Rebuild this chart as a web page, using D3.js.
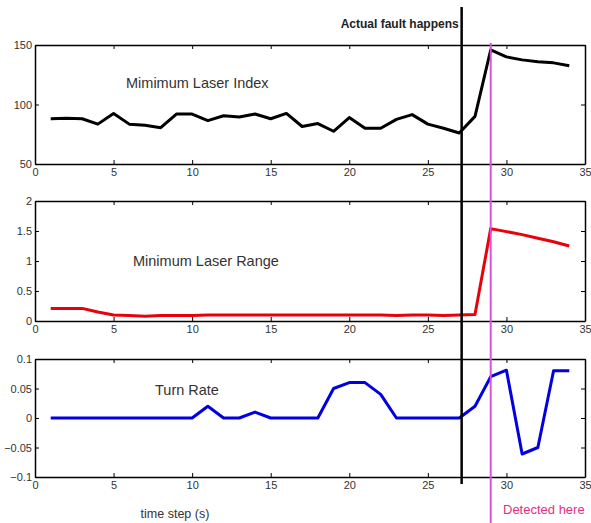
<!DOCTYPE html>
<html>
<head>
<meta charset="utf-8">
<script src="https://cdn.jsdelivr.net/npm/d3@7/dist/d3.min.js"></script>
<style>
  body { margin: 0; background: #fff; }
  svg { display: block; }
  .axis text { font-family: "Liberation Sans", Arial, sans-serif; font-size: 11px; fill: #333; }
  .axis path, .axis line { stroke: #000; }
  .label { font-family: "Liberation Sans", Arial, sans-serif; font-size: 14.5px; fill: #333; }
</style>
</head>
<body>
<div id="chart"></div>
<script>
// Données
const timeSteps = d3.range(1, 35);
const laserIndex = [88, 88.5, 88, 83.5, 92.5, 83.5, 82.5, 80.5, 92, 92, 86.5, 90.5, 89.5, 92, 88, 92.5,
                    81.5, 84, 77.5, 89, 80, 80, 87.5, 91.5, 83.5, 80, 76, 90, 146, 140, 137.5, 136, 135, 132.5];
const laserRange = [0.21, 0.21, 0.21, 0.15, 0.1, 0.09, 0.08, 0.09, 0.09, 0.09, 0.1, 0.1, 0.1, 0.1, 0.1, 0.1,
                    0.1, 0.1, 0.1, 0.1, 0.1, 0.1, 0.09, 0.1, 0.1, 0.09, 0.1, 0.11, 1.54, 1.49, 1.44, 1.38, 1.32, 1.25];
const turnRate = [0, 0, 0, 0, 0, 0, 0, 0, 0, 0, 0.02, 0, 0, 0.01, 0, 0,
                  0, 0, 0.05, 0.06, 0.06, 0.04, 0, 0, 0, 0, 0, 0.02, 0.07, 0.081, -0.061, -0.05, 0.08, 0.08];
const xTicks = [0, 5, 10, 15, 20, 25, 30, 35];
const faultStep = 27.15;
const detectStep = 29;

const panels = [
  { name: 'Mimimum Laser Index', values: laserIndex, domain: [50, 150], ticks: [50, 100, 150],
    color: '#000', top: 45, bottom: 164, labelX: 126, labelY: 88 },
  { name: 'Minimum Laser Range', values: laserRange, domain: [0, 2], ticks: [0, 0.5, 1, 1.5, 2],
    color: '#e8000b', top: 201, bottom: 321, labelX: 133, labelY: 266 },
  { name: 'Turn Rate', values: turnRate, domain: [-0.1, 0.1], ticks: [-0.1, -0.05, 0, 0.05, 0.1],
    color: '#0000e0', top: 359, bottom: 477, labelX: 155, labelY: 395 }
];

const W = 591, H = 523;
const svg = d3.select('#chart').append('svg').attr('width', W).attr('height', H);

const x = d3.scaleLinear().domain([0, 35]).range([35, 585]);

panels.forEach(p => {
  const y = d3.scaleLinear().domain(p.domain).range([p.bottom, p.top]);
  const g = svg.append('g');

  // Axes façon MATLAB (graduations vers l'intérieur)
  g.append('g').attr('class', 'axis')
    .attr('transform', `translate(0,${p.bottom})`)
    .call(d3.axisBottom(x).tickValues(xTicks).tickSizeInner(-4).tickSizeOuter(0).tickPadding(4));
  g.append('g').attr('class', 'axis')
    .attr('transform', `translate(0,${p.top})`)
    .call(d3.axisTop(x).tickValues(xTicks).tickSizeInner(-4).tickSizeOuter(0).tickFormat(''));
  g.append('g').attr('class', 'axis')
    .attr('transform', `translate(35,0)`)
    .call(d3.axisLeft(y).tickValues(p.ticks).tickSizeInner(-4).tickSizeOuter(0).tickPadding(3).tickFormat(d3.format('')));
  g.append('g').attr('class', 'axis')
    .attr('transform', `translate(585,0)`)
    .call(d3.axisRight(y).tickValues(p.ticks).tickSizeInner(-4).tickSizeOuter(0).tickFormat(''));
  g.selectAll('.axis path').attr('stroke-width', 1.5);

  const line = d3.line()
    .x((d, i) => x(timeSteps[i]))
    .y(d => y(d));

  g.append('path')
    .datum(p.values)
    .attr('fill', 'none')
    .attr('stroke', p.color)
    .attr('stroke-width', 3)
    .attr('stroke-linejoin', 'round')
    .attr('d', line);

  g.append('text')
    .attr('class', 'label')
    .attr('x', p.labelX)
    .attr('y', p.labelY)
    .text(p.name);
});

// Lignes verticales : défaut réel et détection
svg.append('line')
  .attr('x1', x(detectStep)).attr('x2', x(detectStep))
  .attr('y1', 43).attr('y2', H)
  .attr('stroke', '#e050e0').attr('stroke-width', 2);

svg.append('line')
  .attr('x1', x(faultStep)).attr('x2', x(faultStep))
  .attr('y1', 7).attr('y2', 484)
  .attr('stroke', '#000').attr('stroke-width', 2.5);

svg.append('text')
  .attr('x', x(faultStep) - 3)
  .attr('y', 28)
  .attr('text-anchor', 'end')
  .style('font-family', '"Liberation Sans", Arial, sans-serif')
  .style('font-size', '12px')
  .style('font-weight', 'bold')
  .style('fill', '#222')
  .text('Actual fault happens');

svg.append('text')
  .attr('x', 503)
  .attr('y', 514)
  .style('font-family', '"Liberation Sans", Arial, sans-serif')
  .style('font-size', '13px')
  .style('fill', '#e0307f')
  .text('Detected here');

svg.append('text')
  .attr('class', 'label')
  .attr('x', 175)
  .attr('y', 518)
  .attr('text-anchor', 'middle')
  .style('font-size', '12.5px')
  .text('time step (s)');
</script>
</body>
</html>
